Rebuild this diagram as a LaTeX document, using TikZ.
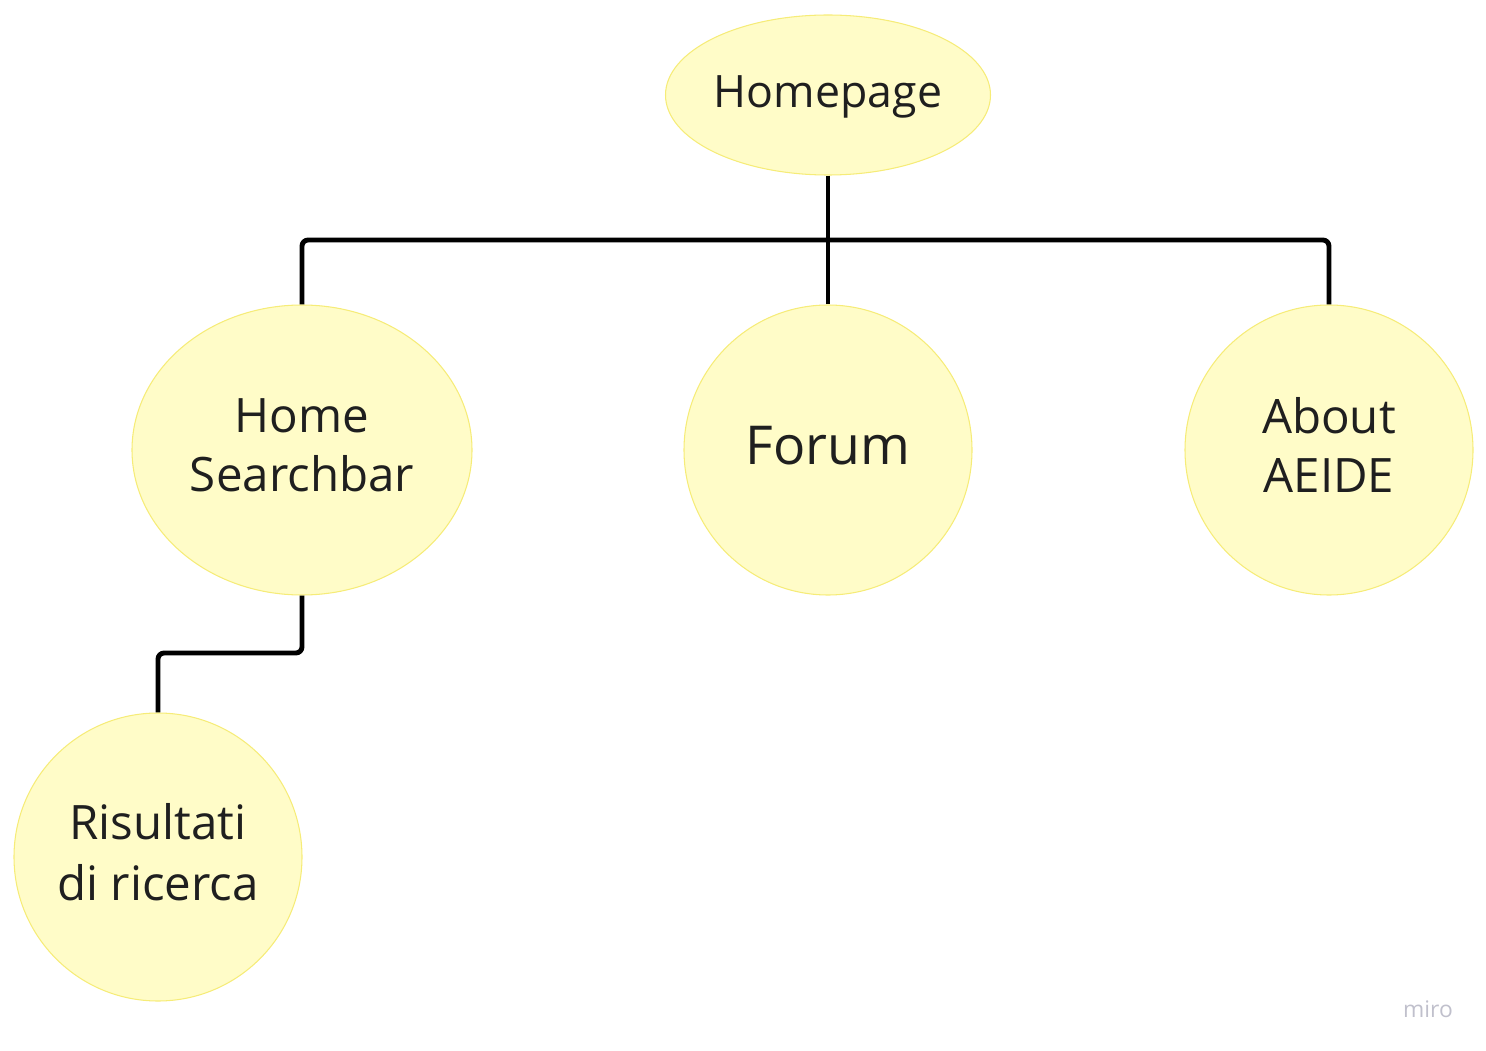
\documentclass[tikz,border=0pt]{standalone}
\usepackage{fontspec}
\setmainfont{Open Sans}
\usepackage{tikz}
\usetikzlibrary{calc,shapes}

\definecolor{pagefill}{RGB}{255,252,200}
\definecolor{pageline}{RGB}{246,236,120}
\definecolor{markgray}{RGB}{192,192,204}

\begin{document}
\begin{tikzpicture}[
        page/.style={ellipse, draw=pageline, fill=pagefill, line width=0.6pt,
            inner sep=0pt, align=center, text=black!88, text depth=0.2cm},
        link/.style={line width=2.8pt, rounded corners=3.5pt}]
        \useasboundingbox (0,0) rectangle (29.72,-21.02);
        % pagine
        \node[page, minimum width=6.5cm, minimum height=3.2cm, text depth=0.13cm,
            font=\fontsize{25.4}{32}\selectfont] (home) at (16.56,-1.9) {Homepage};
        \node[page, minimum width=6.8cm, minimum height=5.8cm,
            font=\fontsize{27}{33.5}\selectfont] (srch) at (6.04,-9.0) {Home\\Searchbar};
        \node[page, minimum width=5.76cm, minimum height=5.8cm,
            font=\fontsize{30.5}{36}\selectfont] (forum) at (16.56,-9.0) {Forum};
        \node[page, minimum width=5.76cm, minimum height=5.8cm,
            font=\fontsize{27}{33.5}\selectfont] (about) at (26.58,-9.0) {About\\AEIDE};
        \node[page, minimum width=5.76cm, minimum height=5.76cm,
            font=\fontsize{27}{35}\selectfont] (ris) at (3.16,-17.14) {Risultati\\di ricerca};
        % collegamenti
        \coordinate (bus) at (16.56,-4.8);
        \coordinate (busL) at (srch.north |- bus);
        \coordinate (step) at (6.04,-13.06);
        \draw[link] (home.south) -- (bus);
        \draw[link] (srch.north) -- (busL) -| (about.north);
        \draw[link] (bus) -- (forum.north);
        \draw[link] (srch.south) -- (step) -| (ris.north);
        \node[text=markgray, font=\fontsize{13}{15}\selectfont] (mark) at (28.56,-20.18) {miro};
    \end{tikzpicture}
\end{document}
